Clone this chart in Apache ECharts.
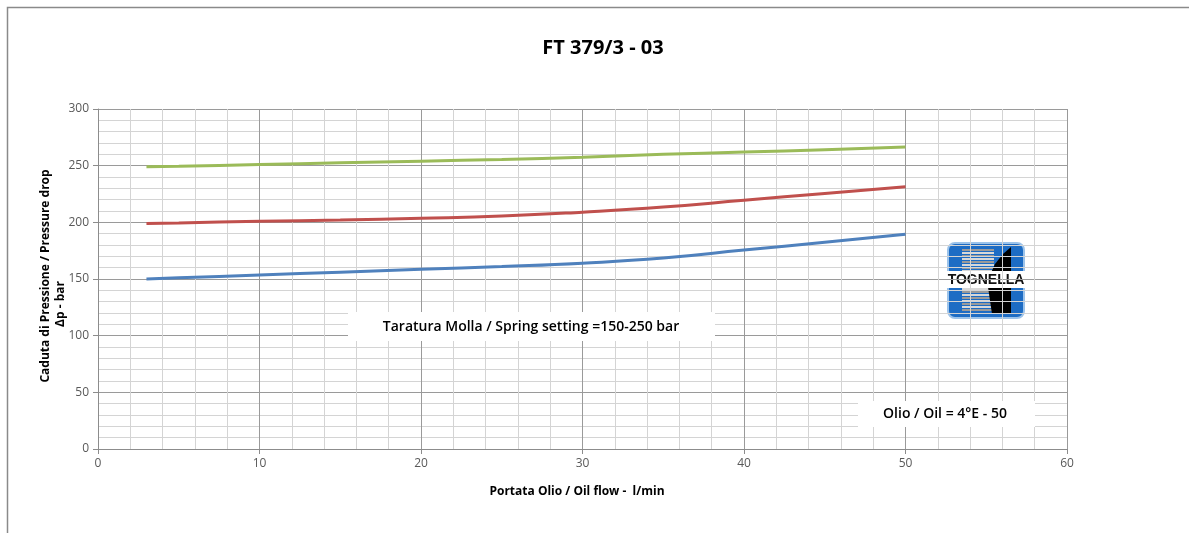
<!DOCTYPE html>
<html>
<head>
<meta charset="utf-8">
<script src="https://cdn.jsdelivr.net/npm/echarts@6/dist/echarts.min.js"></script>
<style>
html,body{margin:0;padding:0;background:#fff;}
#chart{width:1189px;height:533px;}
</style>
</head>
<body>
<div id="chart"></div>
<script>
// Data
var flow = [3, 5, 10, 15, 20, 25, 30, 35, 40, 45, 50];           // l/min
var set150 = [150, 151, 153.5, 156, 158.5, 161, 164, 168.5, 175.5, 182.5, 189.5];
var set200 = [199, 199.5, 201, 202, 203.5, 205.5, 209, 213.5, 219.5, 225.5, 231.5];
var set250 = [249, 249.5, 251, 252.5, 254, 255.5, 257.5, 260, 262, 264, 266.5];

function pairs(xs, ys) { return xs.map(function (x, i) { return [x, ys[i]]; }); }

var chart = echarts.init(document.getElementById('chart'), null, {renderer: 'canvas'});
var FONT = 'Open Sans';

// decorative logo
var logoChildren = [
  {type: 'rect', shape: {x: 0, y: 0, width: 76, height: 75, r: 7},
   style: {fill: '#1d6cc4', stroke: '#9cc3ea', lineWidth: 2}}
];
for (var s = 0; s < 21; s++) {
  logoChildren.push({type: 'rect', shape: {x: 14, y: 6 + s * 3, width: 32, height: 2},
    style: {fill: s % 2 ? '#d8d8d8' : '#9a9a9a'}});
}
logoChildren.push({type: 'polygon', shape: {points: [[63, 4], [63, 71], [44, 71], [40, 44], [42, 32], [47, 21], [55, 11]]},
  style: {fill: '#000'}});
logoChildren.push({type: 'rect', shape: {x: -2, y: 28, width: 80, height: 17}, style: {fill: '#ffffff'}});
logoChildren.push({type: 'text', x: 38, y: 37,
  style: {text: 'TOGNELLA', fill: '#111', font: 'bold 14px "Liberation Sans Narrow", "Liberation Sans"', align: 'center', verticalAlign: 'middle'}});

var option = {
  backgroundColor: '#fff',
  animation: false,
  title: {
    text: 'FT 379/3 - 03', left: 598, top: 33, textAlign: 'center',
    textStyle: {fontFamily: FONT, fontSize: 20, fontWeight: 'bold', color: '#000'}
  },
  grid: {left: 98, right: 122, top: 109, bottom: 84},
  xAxis: {
    type: 'value', min: 0, max: 60, interval: 10,
    axisLine: {show: true, lineStyle: {color: '#8c8c8c', width: 1}},
    axisTick: {show: true, length: 5, lineStyle: {color: '#8c8c8c'}},
    axisLabel: {color: '#595959', fontFamily: FONT, fontSize: 12, margin: 9},
    splitLine: {show: true, lineStyle: {color: '#9a9a9a', width: 1}},
    minorTick: {show: false, splitNumber: 5},
    minorSplitLine: {show: true, lineStyle: {color: '#d4d4d4', width: 1}}
  },
  yAxis: {
    type: 'value', min: 0, max: 300, interval: 50,
    axisLine: {show: true, lineStyle: {color: '#8c8c8c', width: 1}},
    axisTick: {show: true, length: 5, lineStyle: {color: '#8c8c8c'}},
    axisLabel: {color: '#595959', fontFamily: FONT, fontSize: 12, margin: 9},
    splitLine: {show: true, lineStyle: {color: '#9a9a9a', width: 1}},
    minorTick: {show: false, splitNumber: 5},
    minorSplitLine: {show: true, lineStyle: {color: '#d4d4d4', width: 1}}
  },
  series: [
    {name: '150', type: 'line', data: pairs(flow, set150), smooth: 0.5, showSymbol: false,
     lineStyle: {color: '#4f81bd', width: 3}, itemStyle: {color: '#4f81bd'}, z: 3},
    {name: '200', type: 'line', data: pairs(flow, set200), smooth: 0.5, showSymbol: false,
     lineStyle: {color: '#c0504d', width: 3}, itemStyle: {color: '#c0504d'}, z: 3},
    {name: '250', type: 'line', data: pairs(flow, set250), smooth: 0.5, showSymbol: false,
     lineStyle: {color: '#9bbb59', width: 3}, itemStyle: {color: '#9bbb59'}, z: 3}
  ],
  graphic: [
    {type: 'rect', shape: {x: 7.5, y: 7.5, width: 1200, height: 540},
     style: {fill: 'none', stroke: '#8a8a8a', lineWidth: 1.5}, silent: true},
    {type: 'text', x: 46, y: 276, rotation: Math.PI / 2,
     style: {text: 'Caduta di Pressione / Pressure drop', fill: '#000',
       font: 'bold 12px "Open Sans"', align: 'center', verticalAlign: 'middle'}},
    {type: 'text', x: 61, y: 304, rotation: Math.PI / 2,
     style: {text: 'Δp - bar', fill: '#000',
       font: 'bold 12px "Open Sans"', align: 'center', verticalAlign: 'middle'}},
    {type: 'text', x: 577, y: 492,
     style: {text: 'Portata Olio / Oil flow -  l/min', fill: '#000',
       font: 'bold 12px "Open Sans"', align: 'center', verticalAlign: 'middle'}},
    {type: 'rect', shape: {x: 348, y: 312, width: 367, height: 29},
     style: {fill: '#fff'}, z: 10},
    {type: 'text', x: 531, y: 327, z: 11,
     style: {text: 'Taratura Molla / Spring setting =150-250 bar', fill: '#000',
       font: '600 14px "Open Sans"', align: 'center', verticalAlign: 'middle'}},
    {type: 'rect', shape: {x: 858, y: 401, width: 177, height: 26},
     style: {fill: '#fff'}, z: 10},
    {type: 'text', x: 945, y: 414, z: 11,
     style: {text: 'Olio / Oil = 4°E - 50', fill: '#000',
       font: '600 14px "Open Sans"', align: 'center', verticalAlign: 'middle'}},
    {type: 'group', x: 948, y: 243, z: 12, children: logoChildren}
  ]
};
chart.setOption(option);
</script>
</body>
</html>
